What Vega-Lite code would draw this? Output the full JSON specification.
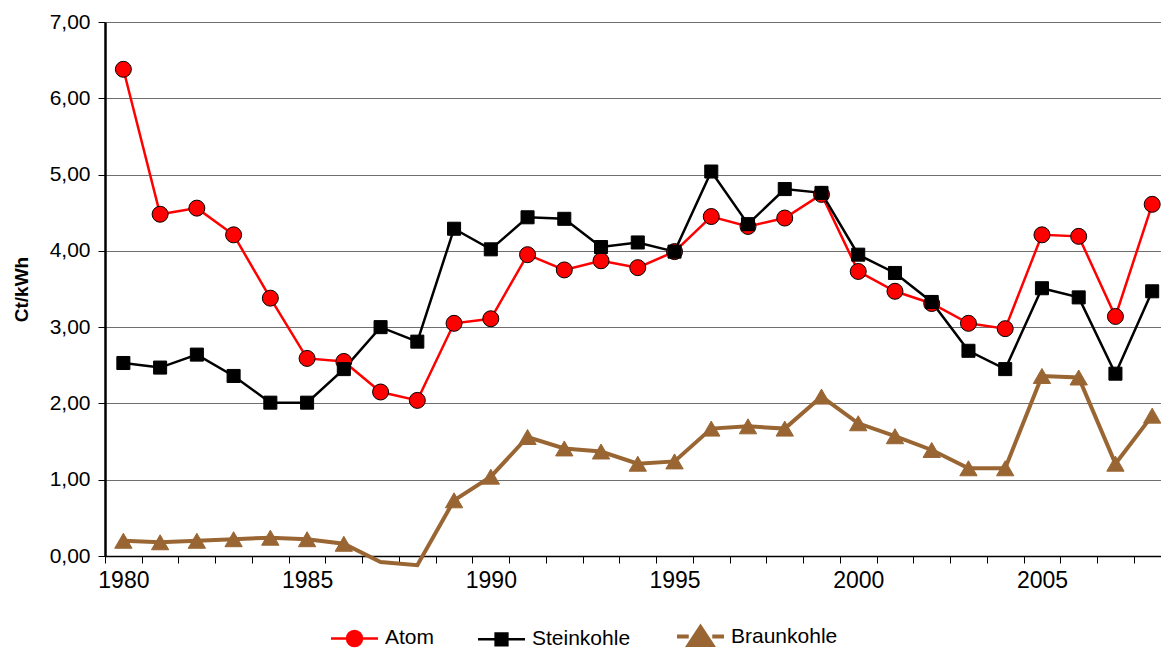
{
  "$schema": "https://vega.github.io/schema/vega-lite/v6.json",
  "width": 1056,
  "height": 534,
  "autosize": "none",
  "padding": {"left": 105, "top": 22, "right": 0, "bottom": 92},
  "background": "white",
  "config": {
    "view": {"stroke": null},
    "font": "Liberation Sans",
    "axis": {"labelFont": "Liberation Sans", "titleFont": "Liberation Sans", "labelColor": "black", "titleColor": "black"}
  },
  "data": {"values": [
    {"year": 1980, "series": "Atom", "value": 6.38},
    {"year": 1981, "series": "Atom", "value": 4.48},
    {"year": 1982, "series": "Atom", "value": 4.56},
    {"year": 1983, "series": "Atom", "value": 4.21},
    {"year": 1984, "series": "Atom", "value": 3.38},
    {"year": 1985, "series": "Atom", "value": 2.59},
    {"year": 1986, "series": "Atom", "value": 2.55},
    {"year": 1987, "series": "Atom", "value": 2.15},
    {"year": 1988, "series": "Atom", "value": 2.04},
    {"year": 1989, "series": "Atom", "value": 3.05},
    {"year": 1990, "series": "Atom", "value": 3.11},
    {"year": 1991, "series": "Atom", "value": 3.95},
    {"year": 1992, "series": "Atom", "value": 3.75},
    {"year": 1993, "series": "Atom", "value": 3.87},
    {"year": 1994, "series": "Atom", "value": 3.78},
    {"year": 1995, "series": "Atom", "value": 3.99},
    {"year": 1996, "series": "Atom", "value": 4.45},
    {"year": 1997, "series": "Atom", "value": 4.32},
    {"year": 1998, "series": "Atom", "value": 4.43},
    {"year": 1999, "series": "Atom", "value": 4.74},
    {"year": 2000, "series": "Atom", "value": 3.73},
    {"year": 2001, "series": "Atom", "value": 3.47},
    {"year": 2002, "series": "Atom", "value": 3.31},
    {"year": 2003, "series": "Atom", "value": 3.05},
    {"year": 2004, "series": "Atom", "value": 2.98},
    {"year": 2005, "series": "Atom", "value": 4.21},
    {"year": 2006, "series": "Atom", "value": 4.19},
    {"year": 2007, "series": "Atom", "value": 3.14},
    {"year": 2008, "series": "Atom", "value": 4.61},
    {"year": 1980, "series": "Steinkohle", "value": 2.53},
    {"year": 1981, "series": "Steinkohle", "value": 2.47},
    {"year": 1982, "series": "Steinkohle", "value": 2.64},
    {"year": 1983, "series": "Steinkohle", "value": 2.36},
    {"year": 1984, "series": "Steinkohle", "value": 2.01},
    {"year": 1985, "series": "Steinkohle", "value": 2.01},
    {"year": 1986, "series": "Steinkohle", "value": 2.45},
    {"year": 1987, "series": "Steinkohle", "value": 3.00},
    {"year": 1988, "series": "Steinkohle", "value": 2.81},
    {"year": 1989, "series": "Steinkohle", "value": 4.29},
    {"year": 1990, "series": "Steinkohle", "value": 4.02},
    {"year": 1991, "series": "Steinkohle", "value": 4.44},
    {"year": 1992, "series": "Steinkohle", "value": 4.42},
    {"year": 1993, "series": "Steinkohle", "value": 4.05},
    {"year": 1994, "series": "Steinkohle", "value": 4.11},
    {"year": 1995, "series": "Steinkohle", "value": 3.99},
    {"year": 1996, "series": "Steinkohle", "value": 5.04},
    {"year": 1997, "series": "Steinkohle", "value": 4.35},
    {"year": 1998, "series": "Steinkohle", "value": 4.81},
    {"year": 1999, "series": "Steinkohle", "value": 4.76},
    {"year": 2000, "series": "Steinkohle", "value": 3.95},
    {"year": 2001, "series": "Steinkohle", "value": 3.71},
    {"year": 2002, "series": "Steinkohle", "value": 3.33},
    {"year": 2003, "series": "Steinkohle", "value": 2.69},
    {"year": 2004, "series": "Steinkohle", "value": 2.45},
    {"year": 2005, "series": "Steinkohle", "value": 3.51},
    {"year": 2006, "series": "Steinkohle", "value": 3.39},
    {"year": 2007, "series": "Steinkohle", "value": 2.39},
    {"year": 2008, "series": "Steinkohle", "value": 3.47},
    {"year": 1980, "series": "Braunkohle", "value": 0.20},
    {"year": 1981, "series": "Braunkohle", "value": 0.18},
    {"year": 1982, "series": "Braunkohle", "value": 0.20},
    {"year": 1983, "series": "Braunkohle", "value": 0.22},
    {"year": 1984, "series": "Braunkohle", "value": 0.24},
    {"year": 1985, "series": "Braunkohle", "value": 0.22},
    {"year": 1986, "series": "Braunkohle", "value": 0.16},
    {"year": 1987, "series": "Braunkohle", "value": -0.08},
    {"year": 1988, "series": "Braunkohle", "value": -0.12},
    {"year": 1989, "series": "Braunkohle", "value": 0.73},
    {"year": 1990, "series": "Braunkohle", "value": 1.04},
    {"year": 1991, "series": "Braunkohle", "value": 1.56},
    {"year": 1992, "series": "Braunkohle", "value": 1.41},
    {"year": 1993, "series": "Braunkohle", "value": 1.37},
    {"year": 1994, "series": "Braunkohle", "value": 1.21},
    {"year": 1995, "series": "Braunkohle", "value": 1.24},
    {"year": 1996, "series": "Braunkohle", "value": 1.67},
    {"year": 1997, "series": "Braunkohle", "value": 1.70},
    {"year": 1998, "series": "Braunkohle", "value": 1.67},
    {"year": 1999, "series": "Braunkohle", "value": 2.09},
    {"year": 2000, "series": "Braunkohle", "value": 1.74},
    {"year": 2001, "series": "Braunkohle", "value": 1.57},
    {"year": 2002, "series": "Braunkohle", "value": 1.39},
    {"year": 2003, "series": "Braunkohle", "value": 1.15},
    {"year": 2004, "series": "Braunkohle", "value": 1.15},
    {"year": 2005, "series": "Braunkohle", "value": 2.36},
    {"year": 2006, "series": "Braunkohle", "value": 2.34},
    {"year": 2007, "series": "Braunkohle", "value": 1.21},
    {"year": 2008, "series": "Braunkohle", "value": 1.84}
  ]},
  "encoding": {
    "x": {
      "field": "year", "type": "quantitative",
      "scale": {"domain": [1979.5, 2008.24], "nice": false, "zero": false},
      "axis": {
        "title": null, "grid": false,
        "values": [1979.5, 1980.5, 1981.5, 1982.5, 1983.5, 1984.5, 1985.5, 1986.5, 1987.5, 1988.5, 1989.5, 1990.5, 1991.5, 1992.5, 1993.5, 1994.5, 1995.5, 1996.5, 1997.5, 1998.5, 1999.5, 2000.5, 2001.5, 2002.5, 2003.5, 2004.5, 2005.5, 2006.5, 2007.5],
        "labelExpr": "(datum.value + 0.5) % 5 === 0 ? format(datum.value + 0.5, 'd') : ''",
        "labelOffset": 18.4, "labelOverlap": false, "labelFlush": false, "labelBound": false,
        "labelFontSize": 23, "labelPadding": 6,
        "domainColor": "black", "domainWidth": 1.5,
        "tickColor": "black", "tickSize": 7, "tickWidth": 1
      }
    },
    "y": {
      "field": "value", "type": "quantitative",
      "scale": {"domain": [0, 7], "nice": false},
      "axis": {
        "title": "Ct/kWh", "titleFontSize": 19, "titleFontWeight": "bold", "titlePadding": 18,
        "values": [0, 1, 2, 3, 4, 5, 6, 7],
        "labelExpr": "replace(format(datum.value, '.2f'), '.', ',')",
        "labelFontSize": 21, "labelPadding": 8,
        "domainColor": "black", "domainWidth": 2.5,
        "tickColor": "black", "tickSize": 7, "tickWidth": 1,
        "grid": true, "gridColor": "#6e6e6e", "gridWidth": 1
      }
    },
    "color": {
      "field": "series", "type": "nominal",
      "scale": {"domain": ["Atom", "Steinkohle", "Braunkohle"], "range": ["#ff0000", "#000000", "#996633"]},
      "legend": {
        "orient": "none", "legendX": 239, "legendY": 604, "direction": "horizontal",
        "title": null, "padding": 0,
        "labelFont": "Liberation Sans", "labelFontSize": 21, "labelColor": "black",
        "symbolSize": 2209, "columnPadding": 38, "labelOffset": 20,
        "encode": {"symbols": {"update": {
          "shape": {"signal": "datum.value === 'Atom' ? 'M-1,0H-0.32M0.32,0H1M-0.32,0A0.32,0.32 0 1,1 0.32,0A0.32,0.32 0 1,1 -0.32,0Z' : datum.value === 'Steinkohle' ? 'M-1,0H-0.25M0.25,0H1M-0.25,-0.25H0.25V0.25H-0.25Z' : 'M-1,0H-0.5M0.5,0H1M0,-0.4L0.5,0.36L-0.5,0.36Z'"},
          "size": {"value": 2209},
          "fill": {"signal": "datum.value === 'Atom' ? '#ff0000' : datum.value === 'Steinkohle' ? '#000000' : '#996633'"},
          "stroke": {"signal": "datum.value === 'Atom' ? '#ff0000' : datum.value === 'Steinkohle' ? '#000000' : '#996633'"},
          "strokeWidth": {"signal": "datum.value === 'Braunkohle' ? 4 : 2.5"},
          "opacity": {"value": 1}
        }}}
      }
    }
  },
  "layer": [
    {
      "mark": {"type": "line", "clip": false},
      "encoding": {
        "strokeWidth": {"condition": {"test": "datum.series === 'Braunkohle'", "value": 4}, "value": 2.5}
      }
    },
    {
      "transform": [{"filter": "datum.value >= 0"}],
      "mark": {"type": "point", "filled": true, "opacity": 1, "strokeWidth": 1},
      "encoding": {
        "shape": {"condition": [
          {"test": "datum.series === 'Atom'", "value": "circle"},
          {"test": "datum.series === 'Steinkohle'", "value": "square"}
        ], "value": "triangle-up"},
        "size": {"condition": [
          {"test": "datum.series === 'Atom'", "value": 256},
          {"test": "datum.series === 'Steinkohle'", "value": 170}
        ], "value": 300},
        "stroke": {"condition": {"test": "datum.series === 'Braunkohle'", "value": "#996633"}, "value": "black"}
      }
    }
  ]
}
